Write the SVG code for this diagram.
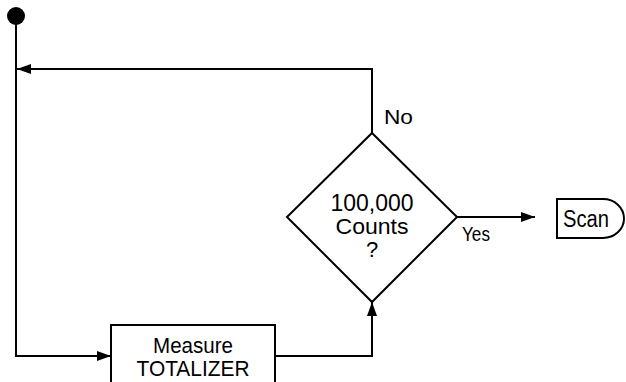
<svg xmlns="http://www.w3.org/2000/svg" width="626" height="382" viewBox="0 0 626 382">
<style>
  .ln { fill: none; stroke: #000; stroke-width: 2; }
  .shape { fill: #fff; stroke: #000; stroke-width: 2; }
  text { font-family: "Liberation Sans", Arial, sans-serif; fill: #000; }
  .c { text-anchor: middle; }
</style>
<defs>
  <marker id="ah" viewBox="0 0 14 10" refX="14" refY="5" markerWidth="14" markerHeight="10" markerUnits="userSpaceOnUse" orient="auto">
    <path d="M0,0 L14,5 L0,10 Z" fill="#000"/>
  </marker>
</defs>
<rect width="626" height="382" fill="#fff"/>
<g id="connectors">
  <path class="ln" d="M16,16 V356 H111" marker-end="url(#ah)"/>
  <path class="ln" d="M372,133 V69 H17" marker-end="url(#ah)"/>
  <path class="ln" d="M275,356 H372 V302" marker-end="url(#ah)"/>
  <path class="ln" d="M457,217 H535" marker-end="url(#ah)"/>
</g>
<g id="start">
  <circle cx="16" cy="16" r="9" fill="#000"/>
</g>
<g id="decision">
  <polygon class="shape" points="372,133 457,217 372,302 287,217"/>
  <text class="c" x="372" y="211" font-size="23" textLength="83" lengthAdjust="spacingAndGlyphs">100,000</text>
  <text class="c" x="372" y="234" font-size="22" textLength="73" lengthAdjust="spacingAndGlyphs">Counts</text>
  <text class="c" x="372" y="257" font-size="22">?</text>
</g>
<g id="label-no">
  <text x="384" y="124" font-size="21" textLength="29" lengthAdjust="spacingAndGlyphs">No</text>
</g>
<g id="label-yes">
  <text x="462" y="241" font-size="20.5" textLength="28" lengthAdjust="spacingAndGlyphs">Yes</text>
</g>
<g id="scan">
  <path class="shape" d="M557,199 H603 A21,19.5 0 0 1 603,238 H557 Z"/>
  <text x="563" y="227" font-size="23" textLength="46" lengthAdjust="spacingAndGlyphs">Scan</text>
</g>
<g id="measure">
  <rect class="shape" x="111" y="325" width="164" height="70"/>
  <text class="c" x="193" y="353" font-size="22" textLength="80" lengthAdjust="spacingAndGlyphs">Measure</text>
  <text class="c" x="193" y="376" font-size="22" textLength="113" lengthAdjust="spacingAndGlyphs">TOTALIZER</text>
</g>
</svg>
